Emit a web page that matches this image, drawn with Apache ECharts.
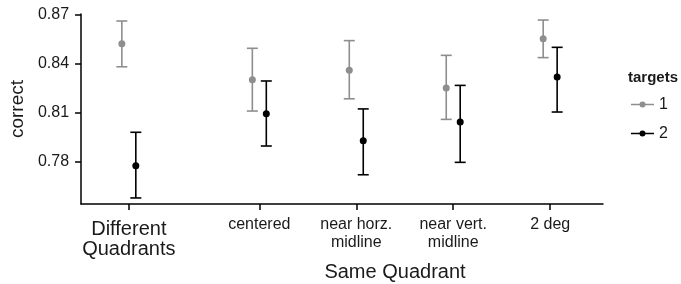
<!DOCTYPE html>
<html>
<head>
<meta charset="utf-8">
<script src="https://cdn.jsdelivr.net/npm/echarts@6/dist/echarts.min.js"></script>
<style>
  html, body { margin: 0; padding: 0; background: #fff; }
  #chart { width: 681px; height: 284px; }
</style>
</head>
<body>
<div id="chart"></div>
<script>
var groups = ['Different\nQuadrants', 'centered', 'near horz.\nmidline', 'near vert.\nmidline', '2 deg'];
var xPos = [0.654, 2, 3, 4, 5];
var yTicks = [0.78, 0.81, 0.84, 0.87];

// targets = 1
var mean1 = [0.8524, 0.8304, 0.8361, 0.8253, 0.8555];
var lo1 = [0.8383, 0.8112, 0.8187, 0.8061, 0.8439];
var hi1 = [0.8663, 0.8496, 0.8543, 0.8453, 0.8669];
// targets = 2
var mean2 = [0.7777, 0.8096, 0.7930, 0.8045, 0.8320];
var lo2 = [0.7580, 0.7898, 0.7722, 0.7798, 0.8106];
var hi2 = [0.7982, 0.8296, 0.8125, 0.8269, 0.8502];

var dodge = 0.072;
var font = 'Liberation Sans, Arial, Helvetica, sans-serif';
var gray = '#8e8e8e';
var ink = '#1a1a1a';

function pts(mean, off) {
	return mean.map(function(v, i) { return [xPos[i] + off, v]; });
}
function bars(lo, hi, off) {
	return lo.map(function(v, i) { return [xPos[i] + off, v, hi[i]]; });
}

function errorBar(color) {
	return function(params, api) {
		var x = api.value(0);
		var a = api.coord([x, api.value(1)]);
		var b = api.coord([x, api.value(2)]);
		var w = 5.5;
		var st = { stroke: color, lineWidth: 1.6 };
		return {
			type: 'group',
			children: [
				{ type: 'line', shape: { x1: a[0], y1: a[1], x2: b[0], y2: b[1] }, style: st },
				{ type: 'line', shape: { x1: a[0] - w, y1: a[1], x2: a[0] + w, y2: a[1] }, style: st },
				{ type: 'line', shape: { x1: b[0] - w, y1: b[1], x2: b[0] + w, y2: b[1] }, style: st }
			]
		};
	};
}

var legendIcon = 'path://M0,2.3L23,2.3L23,3.7L0,3.7Z M8.5,3A3,3 0 1,1 14.5,3A3,3 0 1,1 8.5,3Z';

var chart = echarts.init(document.getElementById('chart'));
chart.setOption({
	animation: false,
	textStyle: { fontFamily: font },
	grid: { left: 79, right: 78, top: 14, bottom: 80 },
	title: {
		text: 'Same Quadrant',
		left: 395,
		top: 262,
		padding: 0,
		textAlign: 'center',
		textStyle: { fontFamily: font, fontSize: 20, fontWeight: 'normal', color: ink }
	},
	graphic: [ {
		type: 'text',
		left: 628,
		top: 70,
		style: { text: 'targets', font: 'bold 15px ' + font, fill: ink }
	} ],
	legend: {
		orient: 'vertical',
		left: 626,
		top: 91,
		itemWidth: 23,
		itemHeight: 6,
		itemGap: 12,
		icon: legendIcon,
		textStyle: { fontFamily: font, fontSize: 16, lineHeight: 17, color: ink },
		data: ['1', '2']
	},
	xAxis: {
		type: 'value',
		min: 0.161,
		max: 5.545,
		splitLine: { show: false },
		axisLine: { lineStyle: { color: '#000', width: 1.5 } },
		axisTick: { customValues: xPos, length: 6, lineStyle: { color: '#000', width: 1.5 } },
		axisLabel: {
			customValues: xPos,
			margin: 12,
			color: ink,
			fontSize: 16,
			lineHeight: 18,
			formatter: function(v) {
				var i = xPos.indexOf(v);
				if (i < 0) return '';
				if (i === 0) {
					var p = groups[0].split('\n');
					return '{b1|' + p[0] + '}\n{b2|' + p[1] + '}';
				}
				return groups[i];
			},
			rich: {
				b1: { fontSize: 20, lineHeight: 22, padding: [5, 0, 0, 0], color: ink, fontFamily: font },
				b2: { fontSize: 20, lineHeight: 22, color: ink, fontFamily: font }
			}
		}
	},
	yAxis: {
		type: 'value',
		min: 0.7543,
		max: 0.8706,
		name: 'correct',
		nameLocation: 'middle',
		nameGap: 48,
		nameTextStyle: { fontSize: 19, color: ink, fontFamily: font },
		splitLine: { show: false },
		axisLine: { show: true, lineStyle: { color: '#000', width: 1.5 } },
		axisTick: { show: true, customValues: yTicks, length: 6, lineStyle: { color: '#000', width: 1.5 } },
		axisLabel: {
			customValues: yTicks,
			margin: 12,
			fontSize: 16,
			color: ink,
			formatter: function(v) { return v.toFixed(2); }
		}
	},
	series: [ {
		type: 'custom',
		name: '1',
		renderItem: errorBar(gray),
		itemStyle: { color: gray },
		data: bars(lo1, hi1, -dodge),
		encode: { x: 0, y: [1, 2] },
		z: 2
	}, {
		type: 'custom',
		name: '2',
		renderItem: errorBar('#000'),
		itemStyle: { color: '#000' },
		data: bars(lo2, hi2, dodge),
		encode: { x: 0, y: [1, 2] },
		z: 2
	}, {
		type: 'scatter',
		name: '1',
		symbolSize: 7,
		itemStyle: { color: gray, opacity: 1 },
		data: pts(mean1, -dodge),
		z: 3
	}, {
		type: 'scatter',
		name: '2',
		symbolSize: 7,
		itemStyle: { color: '#000', opacity: 1 },
		data: pts(mean2, dodge),
		z: 3
	} ]
});
</script>
</body>
</html>
